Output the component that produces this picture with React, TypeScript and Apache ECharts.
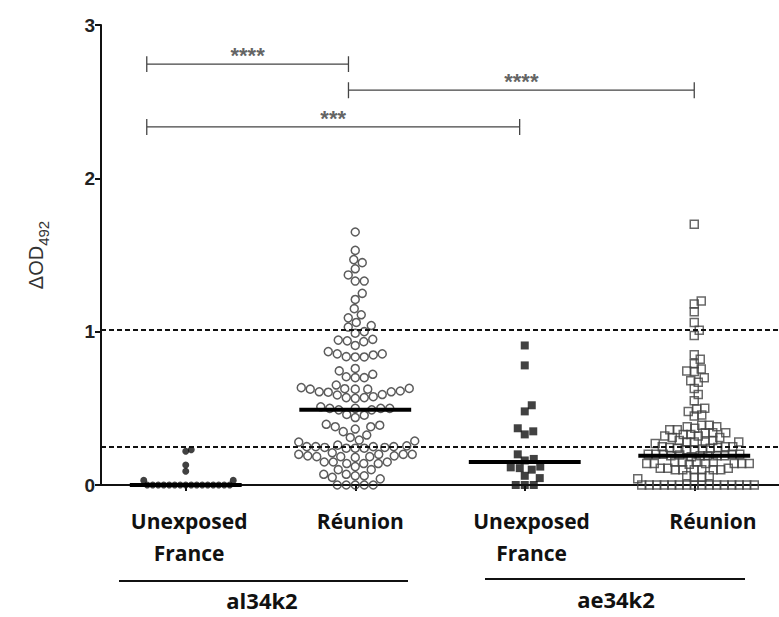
import React, { useEffect, useRef } from "react";
import * as echarts from "echarts";

// ---- data ----
const groupPositions = [1, 2, 3, 4];
const groupLabels = ["Unexposed\nFrance", "Réunion", "Unexposed\nFrance", "Réunion"];
const labelPositions = [1.02, 2.03, 3.04, 4.11];
const antigenNames = ["al34k2", "ae34k2"];
const yTicks = [0, 1, 2, 3];

const al34k2France = [0.23, 0.22, 0.13, 0.09, 0.03, 0.03, 0, 0, 0, 0, 0, 0, 0, 0, 0, 0, 0, 0, 0, 0, 0, 0];

const al34k2Reunion = [
  1.65, 1.53, 1.47, 1.45, 1.41, 1.37, 1.33, 1.33, 1.25, 1.21, 1.15, 1.11, 1.09, 1.06, 1.04, 1.03, 1.0, 0.99,
  0.95, 0.945, 0.91, 0.935, 0.94,
  0.855, 0.848, 0.835, 0.835, 0.837, 0.855, 0.87,
  0.76, 0.706, 0.7, 0.722, 0.744, 0.7, 0.652,
  0.63, 0.625, 0.625, 0.613, 0.608, 0.605, 0.608, 0.625, 0.628, 0.635,
  0.587, 0.57, 0.576, 0.57, 0.59, 0.565,
  0.5, 0.49, 0.5, 0.51, 0.49, 0.5, 0.5,
  0.46, 0.44, 0.455,
  0.39, 0.38, 0.365, 0.348, 0.38, 0.396,
  0.31, 0.28, 0.326, 0.287, 0.293,
  0.25, 0.245, 0.24, 0.25, 0.26, 0.255, 0.25, 0.245, 0.24, 0.24, 0.25,
  0.19, 0.185, 0.19, 0.2, 0.2, 0.2, 0.2, 0.21, 0.18, 0.185, 0.185,
  0.15, 0.15, 0.14, 0.14, 0.14, 0.15, 0.12, 0.1, 0.1,
  0.05, 0.07, 0.06, 0.07, 0.04, 0.06,
  0, 0, 0, 0, 0,
];

const ae34k2France = [0.91, 0.78, 0.52, 0.48, 0.37, 0.33, 0.35, 0.2, 0.16, 0.17, 0.11, 0.1, 0.12, 0.115, 0.06, 0.045, 0, 0, 0];

const ae34k2Reunion = [
  1.7, 1.2, 1.18, 1.13, 1.06, 1.01, 0.975,
  0.85, 0.82, 0.79, 0.757, 0.74, 0.744, 0.7, 0.68, 0.67,
  0.63, 0.59, 0.55,
  0.5, 0.48, 0.45, 0.457, 0.495, 0.39,
  0.38, 0.37, 0.36, 0.34, 0.33, 0.33, 0.34, 0.34, 0.36, 0.38, 0.39,
  0.32, 0.31, 0.29, 0.28, 0.28, 0.27, 0.28, 0.28, 0.29, 0.31, 0.32,
  0.25, 0.23, 0.25, 0.24, 0.23, 0.245, 0.235, 0.245, 0.24, 0.25,
  0.19, 0.2, 0.19, 0.2, 0.19, 0.195, 0.2, 0.19, 0.2, 0.19, 0.185, 0.2,
  0.15, 0.14, 0.15, 0.14, 0.14, 0.14, 0.135, 0.14, 0.15, 0.14, 0.15,
  0.11, 0.1, 0.11, 0.1, 0.1, 0.1, 0.1, 0.11, 0.1,
  0.06, 0.06, 0.05, 0.05, 0.04,
  0, 0, 0, 0, 0, 0, 0, 0, 0, 0, 0, 0, 0, 0, 0, 0,
];

const medians = [0, 0.49, 0.15, 0.19];
const cutoffs = [1.01, 0.25];

const bracketFrom = [0.77, 1.96, 0.77];
const bracketTo = [1.96, 4.0, 2.97];
const bracketY = [2.745, 2.575, 2.335];
const bracketStars = ["****", "****", "***"];

// ---- layout helpers (beeswarm arrangement only) ----
const PX_PER_X = 169.5;
const PX_PER_Y = 153.33;

function swarm(values: number[], d: number): number[] {
  const order = values.map((_, i) => i).sort((a, b) => values[a] - values[b]);
  const placed: { x: number; y: number }[] = [];
  const out = new Array(values.length).fill(0);
  for (const i of order) {
    const y = values[i] * PX_PER_Y;
    let chosen = 0;
    for (let k = 0; k < 2000; k++) {
      const step = Math.ceil(k / 2) * 0.5;
      const cand = k % 2 === 1 ? step : -step;
      let ok = true;
      for (const p of placed) {
        const dy = p.y - y;
        if (Math.abs(dy) >= d) continue;
        const dx = p.x - cand;
        if (dx * dx + dy * dy < d * d - 1e-6) {
          ok = false;
          break;
        }
      }
      if (ok) {
        chosen = cand;
        break;
      }
    }
    placed.push({ x: chosen, y });
    out[i] = chosen / PX_PER_X;
  }
  return out;
}

function toPoints(values: number[], pos: number, d: number) {
  const off = swarm(values, d);
  return values.map((v, i) => [pos + off[i], v]);
}

export default function App() {
  const ref = useRef<HTMLDivElement>(null);
  useEffect(() => {
    document.body.style.margin = "0";
    if (!ref.current) return;
    const chart = echarts.init(ref.current, undefined, { renderer: "svg" });

    const halfMedian = 0.33;
    const tickH = 0.052;

    const medianSeries = medians.map((m, i) => ({
      type: "line",
      data: [
        [groupPositions[i] - halfMedian, m],
        [groupPositions[i] + halfMedian, m],
      ],
      symbol: "none",
      lineStyle: { color: "#000", width: 4 },
      z: 6,
      silent: true,
    }));

    const bracketSeries = bracketFrom.map((x1, i) => {
      const y = bracketY[i];
      const x2 = bracketTo[i];
      return {
        type: "line",
        data: [
          [x1, y + tickH],
          [x1, y - tickH],
          [x1, y],
          [x2, y],
          [x2, y + tickH],
          [x2, y - tickH],
        ],
        symbol: "none",
        lineStyle: { color: "#444", width: 1.3 },
        z: 3,
        silent: true,
      };
    });

    const starSeries = {
      type: "scatter",
      data: bracketFrom.map((x1, i) => ({
        value: [(x1 + bracketTo[i]) / 2, bracketY[i]],
        label: {
          show: true,
          formatter: bracketStars[i],
          position: "top",
          distance: -3,
          fontSize: 22,
          fontWeight: "bold",
          color: "#3a3a3a",
          fontFamily: "Liberation Sans, Arial, sans-serif",
        },
      })),
      symbolSize: 1,
      itemStyle: { color: "rgba(0,0,0,0)" },
      silent: true,
    };

    const option: any = {
      animation: false,
      backgroundColor: "#fff",
      grid: { left: 101, right: 0, top: 25, bottom: 132, containLabel: false },
      xAxis: {
        type: "value",
        min: 0.5,
        max: 4.5,
        splitLine: { show: false },
        axisLine: { show: true, onZero: false, lineStyle: { color: "#111", width: 2 } },
        axisTick: {
          show: true,
          customValues: groupPositions,
          length: 6,
          lineStyle: { color: "#111", width: 2 },
        },
        axisLabel: {
          show: true,
          customValues: labelPositions,
          formatter: (v: number) => {
            const i = labelPositions.findIndex((p) => Math.abs(p - v) < 1e-6);
            return i >= 0 ? groupLabels[i] : "";
          },
          fontSize: 21,
          fontWeight: "bold",
          lineHeight: 32,
          color: "#111",
          margin: 20,
          fontFamily: "Open Sans, Lato, sans-serif",
        },
      },
      yAxis: {
        type: "value",
        min: 0,
        max: 3,
        interval: 1,
        splitLine: { show: false },
        axisLine: { show: true, onZero: false, lineStyle: { color: "#111", width: 2 } },
        axisTick: { show: true, length: 6, lineStyle: { color: "#111", width: 2 } },
        axisLabel: {
          fontSize: 19,
          fontWeight: "bold",
          color: "#222",
          margin: 6,
          fontFamily: "Liberation Sans, Arial, sans-serif",
          formatter: (v: number) => (yTicks.includes(v) ? String(v) : ""),
        },
        name: "{a|ΔOD}{b|492}",
        nameLocation: "middle",
        nameRotate: 90,
        nameGap: 50,
        nameTextStyle: {
          rich: {
            a: { fontSize: 20, color: "#333", fontFamily: "Liberation Sans, Arial, sans-serif", verticalAlign: "bottom", padding: [0, 0, 5, 0] },
            b: { fontSize: 15, color: "#333", fontFamily: "Liberation Sans, Arial, sans-serif", verticalAlign: "bottom" },
          },
        },
      },
      series: [
        {
          type: "scatter",
          data: toPoints(al34k2France, groupPositions[0], 5.5),
          symbol: "circle",
          symbolSize: 7,
          itemStyle: { color: "#111" },
          z: 4,
          markLine: {
            silent: true,
            symbol: "none",
            label: { show: false },
            lineStyle: { color: "#111", width: 2, type: [5, 3] },
            data: cutoffs.map((c) => ({ yAxis: c })),
          },
        },
        {
          type: "scatter",
          data: toPoints(al34k2Reunion, groupPositions[1], 9),
          symbol: "circle",
          symbolSize: 8,
          itemStyle: { color: "rgba(0,0,0,0)", borderColor: "#333", borderWidth: 1.5 },
          z: 4,
        },
        {
          type: "scatter",
          data: toPoints(ae34k2France, groupPositions[2], 9),
          symbol: "rect",
          symbolSize: 8,
          itemStyle: { color: "#111" },
          z: 4,
        },
        {
          type: "scatter",
          data: toPoints(ae34k2Reunion, groupPositions[3], 7.2),
          symbol: "rect",
          symbolSize: 8,
          itemStyle: { color: "rgba(0,0,0,0)", borderColor: "#444", borderWidth: 1.5 },
          z: 4,
        },
        ...medianSeries,
        ...bracketSeries,
        starSeries,
      ],
      graphic: [
        { type: "line", shape: { x1: 119, y1: 581, x2: 408, y2: 581 }, style: { stroke: "#111", lineWidth: 2 } },
        { type: "line", shape: { x1: 485, y1: 579, x2: 745, y2: 579 }, style: { stroke: "#111", lineWidth: 2 } },
        {
          type: "text",
          x: 262,
          y: 600,
          style: { text: antigenNames[0], fontSize: 22, fontWeight: "bold", fill: "#111", align: "center", verticalAlign: "middle", fontFamily: "Open Sans, Lato, sans-serif" },
        },
        {
          type: "text",
          x: 616,
          y: 599,
          style: { text: antigenNames[1], fontSize: 22, fontWeight: "bold", fill: "#111", align: "center", verticalAlign: "middle", fontFamily: "Open Sans, Lato, sans-serif" },
        },
      ],
    };
    chart.setOption(option);
    return () => chart.dispose();
  }, []);
  return <div ref={ref} style={{ width: 779, height: 617 }} />;
}
